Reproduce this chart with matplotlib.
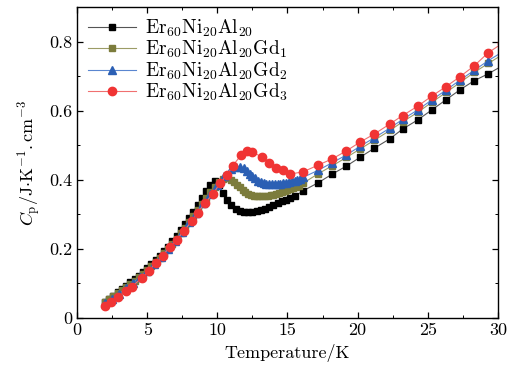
import matplotlib
matplotlib.use("Agg")
import matplotlib.pyplot as plt
from matplotlib.ticker import MultipleLocator, FuncFormatter

# Er60Ni20Al20
T_gd0 = [2.0, 2.3, 2.6, 2.9, 3.2, 3.5, 3.8, 4.1, 4.4, 4.7, 5.0, 5.3, 5.6, 5.9,
         6.2, 6.5, 6.8, 7.1, 7.4, 7.7, 8.0, 8.3, 8.6, 8.9, 9.2, 9.5, 9.8, 10.1,
         10.4, 10.7, 11.0, 11.3, 11.6, 11.9, 12.2, 12.5, 12.8, 13.1, 13.4, 13.7,
         14.0, 14.3, 14.6, 14.9, 15.2, 15.5, 16.1, 17.2, 18.2, 19.2, 20.2, 21.2,
         22.3, 23.2, 24.3, 25.3, 26.3, 27.3, 28.3, 29.3, 30.3]
C_gd0 = [0.045, 0.055, 0.064, 0.074, 0.084, 0.094, 0.103, 0.112, 0.122, 0.133,
         0.145, 0.156, 0.168, 0.180, 0.193, 0.207, 0.222, 0.238, 0.254, 0.272,
         0.290, 0.308, 0.328, 0.348, 0.367, 0.385, 0.396, 0.385, 0.362, 0.342,
         0.326, 0.317, 0.311, 0.308, 0.307, 0.308, 0.310, 0.313, 0.317, 0.322,
         0.327, 0.332, 0.338, 0.343, 0.348, 0.352, 0.368, 0.392, 0.417, 0.440,
         0.466, 0.492, 0.519, 0.547, 0.574, 0.603, 0.632, 0.661, 0.687, 0.707,
         0.730]

# Er60Ni20Al20Gd1
T_gd1 = [2.0, 2.3, 2.6, 2.9, 3.2, 3.5, 3.8, 4.1, 4.4, 4.7, 5.0, 5.3, 5.6, 5.9,
         6.2, 6.5, 6.8, 7.1, 7.4, 7.7, 8.0, 8.3, 8.6, 8.9, 9.2, 9.5, 9.8, 10.1,
         10.4, 10.7, 11.0, 11.2, 11.4, 11.6, 11.8, 12.0, 12.2, 12.4, 12.6, 12.8,
         13.0, 13.2, 13.4, 13.6, 13.8, 14.0, 14.2, 14.4, 14.6, 14.8, 15.0, 15.2,
         15.4, 15.6, 15.8, 16.1, 17.2, 18.2, 19.2, 20.2, 21.2, 22.3, 23.2, 24.3,
         25.3, 26.3, 27.3, 28.3, 29.3, 30.3]
C_gd1 = [0.047, 0.055, 0.063, 0.072, 0.080, 0.089, 0.098, 0.108, 0.118, 0.128,
         0.140, 0.151, 0.163, 0.175, 0.188, 0.201, 0.215, 0.230, 0.245, 0.262,
         0.279, 0.296, 0.314, 0.331, 0.348, 0.364, 0.380, 0.393, 0.403, 0.405,
         0.401, 0.394, 0.386, 0.378, 0.371, 0.365, 0.360, 0.357, 0.354, 0.353,
         0.352, 0.352, 0.352, 0.353, 0.355, 0.357, 0.359, 0.361, 0.364, 0.367,
         0.370, 0.373, 0.376, 0.379, 0.382, 0.390, 0.418, 0.441, 0.465, 0.490,
         0.515, 0.543, 0.568, 0.596, 0.625, 0.653, 0.682, 0.711, 0.737, 0.762]

# Er60Ni20Al20Gd2
T_gd2 = [2.0, 2.5, 3.0, 3.5, 4.0, 4.5, 5.0, 5.5, 6.0, 6.5, 7.0, 7.5, 8.0, 8.5,
         9.0, 9.5, 10.0, 10.5, 11.0, 11.3, 11.6, 11.9, 12.1, 12.3, 12.5, 12.7,
         12.9, 13.1, 13.3, 13.5, 13.7, 13.9, 14.1, 14.3, 14.5, 14.7, 14.9, 15.1,
         15.3, 15.5, 15.7, 15.9, 16.1, 17.2, 18.2, 19.2, 20.2, 21.2, 22.3, 23.2,
         24.3, 25.3, 26.3, 27.3, 28.3, 29.3, 30.3]
C_gd2 = [0.042, 0.055, 0.070, 0.086, 0.102, 0.119, 0.137, 0.157, 0.178, 0.200,
         0.224, 0.250, 0.277, 0.305, 0.333, 0.360, 0.385, 0.410, 0.430, 0.437,
         0.438, 0.433, 0.426, 0.418, 0.411, 0.404, 0.398, 0.394, 0.391, 0.389,
         0.388, 0.387, 0.387, 0.388, 0.389, 0.390, 0.392, 0.394, 0.396, 0.398,
         0.400, 0.403, 0.407, 0.428, 0.450, 0.472, 0.498, 0.522, 0.550, 0.575,
         0.603, 0.632, 0.660, 0.689, 0.717, 0.745, 0.770]

# Er60Ni20Al20Gd3
T_gd3 = [2.0, 2.4, 2.9, 3.5, 3.9, 4.6, 5.1, 5.6, 6.1, 6.6, 7.1, 7.6, 8.2, 8.6,
         9.1, 9.7, 10.2, 10.7, 11.1, 11.7, 12.1, 12.5, 13.2, 13.7, 14.2, 14.7,
         15.2, 16.1, 17.2, 18.2, 19.2, 20.2, 21.2, 22.3, 23.2, 24.3, 25.3, 26.3,
         27.3, 28.3, 29.3, 30.3]
C_gd3 = [0.035, 0.046, 0.061, 0.078, 0.090, 0.116, 0.136, 0.159, 0.180, 0.206,
         0.226, 0.252, 0.281, 0.304, 0.333, 0.359, 0.391, 0.414, 0.441, 0.472,
         0.484, 0.480, 0.466, 0.449, 0.434, 0.429, 0.417, 0.423, 0.443, 0.461,
         0.484, 0.510, 0.533, 0.562, 0.586, 0.614, 0.643, 0.670, 0.699, 0.730,
         0.768, 0.795]

LABELS = [r"Er$_{60}$Ni$_{20}$Al$_{20}$",
          r"Er$_{60}$Ni$_{20}$Al$_{20}$Gd$_{1}$",
          r"Er$_{60}$Ni$_{20}$Al$_{20}$Gd$_{2}$",
          r"Er$_{60}$Ni$_{20}$Al$_{20}$Gd$_{3}$"]

plt.rcParams["font.family"] = "serif"
plt.rcParams["font.serif"] = ["cmr10", "DejaVu Serif"]
plt.rcParams["mathtext.fontset"] = "cm"
plt.rcParams["axes.formatter.use_mathtext"] = True

fig = plt.figure(figsize=(5.22, 3.77), dpi=100)
ax = fig.add_axes([0.1475, 0.1565, 0.8065, 0.8245])

styles = [
    dict(marker="s", ms=4.8, mfc="black", mec="black", color="#555555"),
    dict(marker="s", ms=4.8, mfc="#7c7c3c", mec="#7c7c3c", color="#9c9c66"),
    dict(marker="^", ms=5.6, mfc="#2b5fb4", mec="#2b5fb4", color="#5a86d0"),
    dict(marker="o", ms=6.0, mfc="#f03434", mec="#f03434", color="#f07070"),
]
series = [(T_gd0, C_gd0), (T_gd1, C_gd1), (T_gd2, C_gd2), (T_gd3, C_gd3)]
for (t, c), lab, st in zip(series, LABELS, styles):
    ax.plot(t, c, lw=0.8, label=lab, **st)

ax.set_xlim(0, 30)
ax.set_ylim(0, 0.9)
ax.xaxis.set_major_locator(MultipleLocator(5))
ax.xaxis.set_minor_locator(MultipleLocator(2.5))
ax.yaxis.set_major_locator(MultipleLocator(0.2))
ax.yaxis.set_minor_locator(MultipleLocator(0.1))
ax.yaxis.set_major_formatter(FuncFormatter(lambda v, p: "%g" % round(v, 2)))
ax.xaxis.set_major_formatter(FuncFormatter(lambda v, p: "%g" % v))
ax.tick_params(which="both", direction="in", top=True, right=True,
               labelsize=13)
ax.tick_params(which="major", length=4.5, width=0.9)
ax.tick_params(which="minor", length=2.5, width=0.7)
for sp in ax.spines.values():
    sp.set_linewidth(1.0)

ax.set_xlabel("Temperature/K", fontsize=13)
ax.set_ylabel(r"$C_{\rm p}/{\rm J{\cdot}K^{-1}.cm^{-3}}$", fontsize=13)

ax.legend(loc="upper left", frameon=False, fontsize=14, handlelength=2.5,
          handletextpad=0.45, labelspacing=0.0, borderaxespad=0.25,
          borderpad=0.3)

fig.savefig("out.png", dpi=100)
